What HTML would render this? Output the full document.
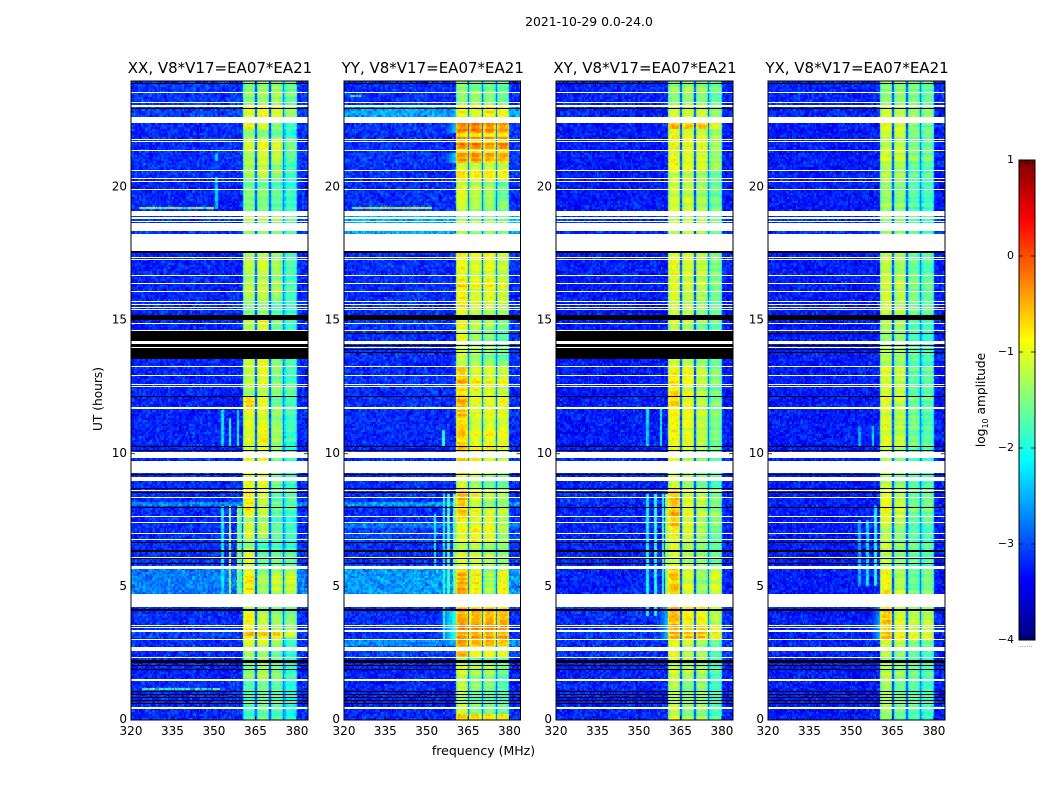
<!DOCTYPE html>
<html>
<head>
<meta charset="utf-8">
<title>2021-10-29 spectrogram</title>
<style>
html,body{margin:0;padding:0;background:#fff;}
#figure{position:relative;width:1050px;height:800px;overflow:hidden;background:#fff;}
canvas{position:absolute;display:block;}
svg{position:absolute;left:0;top:0;}
text{font-family:"DejaVu Sans","Liberation Sans",sans-serif;fill:#000;}
</style>
</head>
<body>
<div id="figure">
<svg id="overlay" width="1050" height="800" viewBox="0 0 1050 800">
<text x="589" y="26" font-size="12.4" text-anchor="middle">2021-10-29 0.0-24.0</text>
<text x="483.5" y="755" font-size="12.5" text-anchor="middle">frequency (MHz)</text>
<text transform="translate(102,399) rotate(-90)" font-size="12.2" text-anchor="middle">UT (hours)</text>
<text transform="translate(985,400) rotate(-90)" font-size="12.2" text-anchor="middle">log<tspan font-size="8" dy="3">10</tspan><tspan dy="-3"> amplitude</tspan></text>
</svg>
</div>
<script>
/* ---------- chart data ---------- */
var panelTitles = ["XX, V8*V17=EA07*EA21","YY, V8*V17=EA07*EA21","XY, V8*V17=EA07*EA21","YX, V8*V17=EA07*EA21"];
var freqTicks = [320,335,350,365,380];
var hourTicks = [0,5,10,15,20];
var colorTicks = [1,0,-1,-2,-3,-4];

/* time segments: [start hour, background, sub-band 1..4, optional roll-off level below the band] (log10 amplitude) */
var segmentsXX = [
[0,-3.1,-1.75,-1.55,-1.65,-1.95],[1.5,-3.15,-1.45,-1.25,-1.45,-1.85],[2.3,-3.1,-1.35,-1.45,-1.65,-1.95],
[2.75,-3.1,-0.95,-0.95,-1.25,-1.75],[3.05,-3,-0.65,-0.75,-0.75,-1.15],[3.4,-3.1,-0.85,-1.15,-1.35,-1.45],
[4.1,-3.1,-1.35,-1.45,-1.55,-1.65],[4.73,-2.7,-0.85,-1.35,-1.15,-1.15],[5.8,-3.1,-1.05,-1.65,-1.55,-1.65],
[6.4,-3.1,-1.35,-1.75,-1.75,-1.85],[6.8,-3.1,-1.15,-1.25,-1.65,-1.85],[7.7,-3.1,-0.85,-1.15,-1.65,-1.75],
[8,-2.65,-0.75,-1.15,-1.45,-1.65],[8.2,-3.1,-0.85,-1.05,-1.65,-1.65],[8.7,-3.1,-0.95,-0.95,-1.55,-1.85],
[10,-3.15,-1.05,-0.9,-1.35,-1.85],[11,-3.15,-1,-1,-1.4,-1.75],[11.7,-3.15,-0.65,-0.95,-1.55,-1.75],
[12.15,-3.15,-1.35,-1.25,-1.45,-1.65],[12.6,-3.15,-1.15,-0.95,-1.45,-1.75],[15.2,-3.1,-1.45,-1.35,-1.65,-1.85],
[15.8,-3.15,-1.25,-1.15,-1.35,-1.75],[18.25,-3.05,-1.35,-1.35,-1.45,-1.65],[19.1,-3.15,-1.5,-1.5,-1.65,-1.85],
[20.3,-3.1,-1.35,-1.2,-1.45,-1.85],[21,-3.1,-1.2,-1,-1.1,-1.55],[21.8,-3.1,-1.3,-1.35,-1.45,-1.85],
[22.2,-3.1,-0.85,-1.05,-1.45,-1.75],[22.65,-3,-1,-0.85,-1,-1.35],[23.1,-3.05,-1.45,-1.35,-1.35,-1.55]];

var segmentsYY = [
[0,-3.1,-0.5,-0.6,-0.6,-0.7],[0.25,-3.15,-1.2,-1.55,-1.6,-1.7],[1.2,-3.15,-1.1,-1.3,-1.3,-1.6],
[2,-3.1,-1.2,-1.4,-1.4,-1.5],[2.3,-3,-0.6,-1,-1,-1.1],[2.75,-2.6,-0.5,-0.6,-0.6,-0.7],
[3,-3.1,-0.35,-0.4,-0.4,-0.45,-1.9],[4.1,-3.1,-0.6,-0.7,-0.7,-0.8],[4.73,-2.55,-0.5,-0.9,-1.3,-0.95],
[5.8,-3.1,-1,-1,-1.2,-1.4],[6.2,-3.1,-1.2,-1.2,-1.3,-1.4],[6.7,-3,-1,-0.9,-1,-1.4],
[7.2,-2.75,-0.9,-0.95,-0.9,-1.2],[7.45,-3.1,-0.8,-1,-1,-1.3],[7.65,-3.1,-0.6,-1,-1.1,-1.2],
[8,-2.55,-0.5,-1,-1.3,-1.3],[8.2,-3.1,-0.5,-0.9,-1.1,-1.2],[8.7,-3.1,-1,-1.2,-1.4,-1.5],
[9.2,-3.1,-0.7,-0.9,-1.1,-1.3],[10.1,-3.15,-0.65,-0.95,-0.85,-0.95],[10.8,-3.1,-0.6,-1,-0.95,-1],
[11.75,-3.1,-0.45,-0.9,-1,-0.9],[12.1,-3.1,-0.75,-1,-1,-1.15],[12.6,-3.05,-0.45,-0.85,-0.95,-0.9],
[12.95,-3.1,-0.55,-0.95,-0.95,-1.05],[13.3,-3.15,-1.3,-1.3,-1.4,-1.5],[13.5,-3.1,-1.1,-1.3,-1.4,-1.6],
[14.25,-3.1,-1,-1.4,-1.5,-1.8],[14.6,-3.05,-0.95,-1.2,-1.3,-1.5],[15.2,-3.1,-0.8,-1,-1.1,-1.2],
[15.7,-3.1,-0.75,-0.95,-0.85,-1],[16.4,-3.1,-0.95,-1.05,-1,-1.2],[18.25,-2.45,-1.2,-1.3,-1.3,-1.4],
[19.1,-3.1,-1.2,-1.3,-1.4,-1.5],[19.5,-3.1,-1,-1.2,-1.3,-1.6],[20.28,-3.1,-0.7,-0.75,-0.75,-0.85],
[20.66,-3.1,-1.1,-1.15,-1.15,-1.2],[20.92,-3.05,-0.4,-0.4,-0.5,-0.55,-2.3],[21.33,-3.1,-0.85,-0.85,-0.95,-0.9],
[21.44,-3.1,-0.25,-0.2,-0.35,-0.3],[21.67,-3.1,-0.85,-0.85,-0.9,-0.95],[21.82,-3.1,-0.05,-0.05,-0.05,-0.15],
[21.93,-3.1,-0.7,-0.75,-0.75,-0.8],[22.08,-3.05,-0.35,-0.3,-0.4,-0.5,-2.4],[22.65,-2.5,-0.8,-0.9,-0.7,-0.8],
[23,-3.1,-1.3,-1.25,-1.3,-1.45],[23.6,-3.1,-1.5,-1.6,-1.6,-1.7]];

var segmentsXY = [
[0,-3.15,-1.15,-1.4,-1.35,-1.75],[1.5,-3.15,-1.1,-1.25,-1.3,-1.7],[2.3,-3.1,-1,-1.25,-1.35,-1.75],
[2.75,-3.1,-0.9,-1.05,-1.25,-1.55],[3,-3.05,-0.5,-0.65,-0.6,-0.9,-2.4],[3.55,-3.1,-0.55,-0.85,-0.9,-1.2,-2.4],
[4.73,-3.15,-0.65,-1.1,-1.4,-1.1],[5.8,-3.15,-1.05,-1.25,-1.4,-1.6],[6.7,-3.15,-0.95,-1.15,-1.35,-1.65],
[7.2,-3.15,-0.6,-1.05,-1.25,-1.45],[8,-3.1,-0.5,-0.95,-1.1,-1.45],[8.7,-3.15,-1.1,-1.35,-1.55,-1.75],
[10.1,-3.2,-0.9,-1,-1.2,-1.5],[11.7,-3.2,-0.75,-1.05,-1.25,-1.55],[12.6,-3.2,-0.85,-0.9,-1.2,-1.45],
[13.3,-3.2,-1.15,-1.25,-1.45,-1.65],[15.2,-3.2,-1.05,-1.15,-1.35,-1.55],[15.8,-3.2,-1,-1.1,-1.2,-1.5],
[18.25,-3.1,-1.25,-1.25,-1.35,-1.55],[19.1,-3.2,-1.15,-1.2,-1.35,-1.6],[20.6,-3.2,-0.95,-1,-1.05,-1.35],
[22.2,-3.2,-0.65,-0.75,-0.75,-1.15],[22.65,-3.15,-1,-1,-1.05,-1.35],[23,-3.15,-1.4,-1.35,-1.4,-1.6]];

var segmentsYX = [
[0,-3.2,-1.35,-1.6,-1.7,-1.85],[1.5,-3.2,-1.2,-1.4,-1.6,-1.75],[2.3,-3.15,-1.15,-1.35,-1.55,-1.65],
[2.75,-3.15,-1.05,-1.2,-1.45,-1.55],[3,-3.15,-0.6,-0.95,-1.05,-1.1,-2.5],[3.6,-3.2,-0.65,-1.05,-1.25,-1.2,-2.6],
[4.73,-3.2,-0.9,-1.25,-1.6,-1.5],[5.8,-3.2,-1.2,-1.45,-1.65,-1.75],[7.2,-3.2,-1,-1.2,-1.6,-1.6],
[8.7,-3.2,-1.2,-1.45,-1.7,-1.75],[10.1,-3.2,-1.05,-1.2,-1.55,-1.7],[12,-3.2,-1.05,-1.15,-1.65,-1.65],
[13.3,-3.2,-1.25,-1.35,-1.7,-1.8],[15.2,-3.2,-1.15,-1.25,-1.55,-1.65],[18.25,-3.1,-1.3,-1.35,-1.6,-1.7],
[19.1,-3.2,-1.35,-1.45,-1.7,-1.8],[20.3,-3.2,-1.25,-1.3,-1.65,-1.7],[21,-3.2,-1.1,-1.15,-1.45,-1.55],
[22.2,-3.2,-1,-1.15,-1.5,-1.6],[22.65,-3.15,-1.15,-1.2,-1.35,-1.45],[23,-3.15,-1.45,-1.45,-1.55,-1.65]];

var allSegments = [segmentsXX,segmentsYY,segmentsXY,segmentsYX];

/* narrow vertical interference: [MHz, first hour, last hour, value] */
var vLinesXX = [[351,19.2,20.4,-2.4],[351,21,21.3,-2.4],[353,4.7,8,-2.2],[355.7,4.7,8,-1.4],[358.6,4.7,8,-1.4],[359.5,4.7,8,-1.8],[353,10.3,11.6,-2.3],[355.7,10.3,11.3,-1.9],[358.7,10.3,11.6,-2.1]];
var vLinesYY = [[353,5.8,7.7,-2.1],[356.2,3,8.5,-2],[358,4.7,8.5,-1.8],[360,4.7,8.5,-1.6],[356,10.3,10.9,-1.9]];
var vLinesXY = [[353,3.9,8.5,-2.1],[356,3.9,8.5,-2],[358.6,4.7,8.5,-1.8],[360,4.7,8.5,-1.4],[353,10.3,11.7,-2.3],[358,10.3,11.7,-2.1]];
var vLinesYX = [[353,5,7.5,-2.5],[356,5,7.5,-2.3],[359,5,8,-2],[353,10.3,11,-2.6],[358,10.3,11,-2.3]];
var allVLines = [vLinesXX,vLinesYY,vLinesXY,vLinesYX];

/* narrow horizontal interference: [hour, first MHz, last MHz, value] */
var hLinesXX = [[19.2,323,350,-1.5],[1.16,324,352,-1.9]];
var hLinesYY = [[19.2,323,352,-1.3],[23.4,321,326,-2.1]];
var hLinesXY = [];
var hLinesYX = [];
var allHLines = [hLinesXX,hLinesYY,hLinesXY,hLinesYX];

/* hand-typed fine-grain texture, not measured cell by cell */
var speckle = [0.4,-0.7,0.1,0.9,-0.3,-0.9,0.6,0.2,-0.5,0.8,-0.1,-0.6,0.3,1,-0.8,0.5,-0.2,0.7,-1,0.2,
0.6,-0.4,0.9,-0.7,0,0.5,-0.9,0.3,0.8,-0.6,0.1,-0.2,0.7,-0.8,0.4,1,-0.5,-0.1,0.6,-0.3,
0.2,0.8,-1,0.5,-0.6,0.3,0.9,-0.4,-0.7,0.1,0.6,-0.2,0.4,-0.9,0.7,0,-0.5,0.9,-0.3,0.2,
-0.8,0.5,1,-0.6,0.1,-0.4,0.7,0.3,-1,0.8,-0.1,0.4,-0.7,0.6,-0.2,0.9,-0.5,0.2,0.7,-0.9,
0.3,-0.3,0.8,0.1,-0.6,0.5,-0.8,1,-0.1,0.4,-0.4,0.6,-0.9,0.2,0.7,-0.2,0.5];

/* flagged time ranges [from hour, to hour] */
var whiteFlags = [[0.43,0.47],[1.46,1.53],[2.34,2.37],[2.59,2.75],[3,3.04],[3.32,3.38],[3.46,3.49],[3.52,3.55],
[4.23,4.73],[5.66,5.8],[6.1,6.13],[6.75,6.78],[7,7.03],[7.41,7.44],[7.62,7.65],[8.34,8.37],[8.59,8.62],
[8.99,9.14],[9.27,9.71],[9.85,10.05],[11.68,11.75],[12.5,12.54],[12.58,12.62],[12.93,12.96],[13.27,13.3],
[13.99,14.02],[14.12,14.24],[14.63,14.66],[14.89,14.92],[15.39,15.42],[15.49,15.52],[15.59,15.62],[15.7,15.73],
[16.1,16.13],[16.39,16.42],[16.69,16.72],[17.27,17.31],[17.36,17.39],[17.62,18.25],[18.38,18.65],[18.69,18.75],
[18.81,18.88],[18.93,19.13],[19.92,19.96],[20.2,20.23],[20.31,20.35],[20.63,20.66],[21.36,21.39],[21.72,21.75],
[21.78,21.81],[22.43,22.63],[23.01,23.1],[23.17,23.2],[23.55,23.58]];
var blackFlags = [[0.59,0.62],[0.71,0.74],[0.84,0.87],[0.95,0.98],[1.04,1.08],[1.86,1.9],[2.02,2.06],[2.13,2.25],
[4.09,4.16],[5.87,5.9],[6.06,6.09],[6.31,6.38],[6.65,6.69],[7.97,8],[8.51,8.55],[8.66,8.7],[9.2,9.24],[10.09,10.13],
[10.25,10.29],[12.13,12.17],[13.79,13.83],[13.88,13.92],[14.06,14.1],[14.48,14.52],[15.02,15.21],[17.53,17.6],[22.96,23],[23.87,23.91]];
/* extra outage only in the XX and XY panels */
var crossBlackFlags = [[13.55,13.97],[14.02,14.12],[14.25,14.61]];
var panelsWithOutage = [true,false,true,false];

/* sub-band limits in MHz: [low, high] */
var subBands = [[360.5,364.8],[365.6,369.9],[370.7,374.9],[375.7,380]];

/* ---------- layout and scales ---------- */
var panelLeft = [131,344,556,768];
var panelWidth = [177,176.5,177,177];
var plotTop = 81, plotBottom = 720;
var FREQ_MIN = 320, FREQ_MAX = 384, HOUR_MAX = 24;
var NCHAN = 128, NROW = 320;
var SVGNS = "http://www.w3.org/2000/svg";
var overlay = document.getElementById("overlay");
var figure = document.getElementById("figure");

function xScale(p, f){ return panelLeft[p] + (f - FREQ_MIN) * panelWidth[p] / (FREQ_MAX - FREQ_MIN); }
function yScale(h){ return plotBottom - h * (plotBottom - plotTop) / HOUR_MAX; }
function clamp(v){ return Math.max(0, Math.min(1, v)); }
function jet(v){
  var t = (v + 4) / 5;
  return "rgb(" + Math.round(255*clamp(Math.min(4*t-1.5,-4*t+4.5))) + "," +
    Math.round(255*clamp(Math.min(4*t-0.5,-4*t+3.5))) + "," +
    Math.round(255*clamp(Math.min(4*t+0.5,-4*t+2.5))) + ")";
}
function svgEl(tag, attrs){
  var e = document.createElementNS(SVGNS, tag);
  for (var k in attrs) e.setAttribute(k, attrs[k]);
  return e;
}
function segmentAt(p, hour){
  var list = allSegments[p], s = list[0];
  for (var i = 0; i < list.length; i++) if (list[i][0] <= hour) s = list[i];
  return s;
}
function cellValue(p, c, r){
  var dh = HOUR_MAX / NROW, df = (FREQ_MAX - FREQ_MIN) / NCHAN;
  var hour = (r + 0.5) * dh;
  var freq = FREQ_MIN + (c + 0.5) * df;
  var s = segmentAt(p, hour);
  var n = speckle.length;
  var noise = speckle[(c*c*3 + r*r*5 + c*r*11 + c*37 + r*13 + p*7) % n];
  var noise2 = speckle[(c*c*13 + r*r*2 + c*r*5 + c*3 + r*41 + p*19) % n];
  var stripe = speckle[(r*r*3 + r*7 + p*11) % n];
  var v = null;
  var inBand = freq >= subBands[0][0] && freq <= subBands[3][1];
  if (inBand) {
    v = -3 + 0.2*noise;
    for (var b = 0; b < subBands.length; b++) {
      var lo = subBands[b][0], hi = subBands[b][1];
      if (freq >= lo && freq <= hi) {
        var pos = Math.min(freq - lo, hi - freq);
        var rolloff = pos < 0.5 ? 0.4 : (pos < 1 ? 0.12 : 0);
        v = s[2 + b] - rolloff + 0.14*noise + 0.07*noise2 + 0.2*stripe;
      }
    }
  } else {
    v = s[1] - 0.1 + 0.3*noise + 0.18*noise2;
    if (freq < 360.5 && freq >= 352 && s[6] !== undefined) {
      v = Math.max(v, s[6] - (360.5 - freq)*0.22 + 0.12*noise);
    }
  }
  var lines = allVLines[p];
  for (var i = 0; i < lines.length; i++) {
    var l = lines[i];
    if (Math.abs(l[0] - freq) <= df/2 && hour >= l[1] && hour <= l[2]) v = l[3] + 0.25*noise;
  }
  var hl = allHLines[p];
  for (var j = 0; j < hl.length; j++) {
    var h = hl[j];
    if (Math.floor(h[0] / dh) === r && freq >= h[1] && freq <= h[2]) v = h[3] + 0.9*noise;
  }
  return v;
}

/* ---------- panels ---------- */
panelTitles.forEach(function(title, p){
  var left = panelLeft[p], width = panelWidth[p], right = left + width;
  var canvas = document.createElement("canvas");
  
  
  canvas.width = Math.ceil(width);
  canvas.height = plotBottom - plotTop;
  canvas.style.left = left + "px";
  canvas.style.top = plotTop + "px";
  figure.insertBefore(canvas, overlay);
  var ctx = canvas.getContext("2d");
  var df = (FREQ_MAX - FREQ_MIN) / NCHAN, dh = HOUR_MAX / NROW;
  for (var r = 0; r < NROW; r++) {
    var y0 = Math.round(yScale((r + 1) * dh)) - plotTop;
    var y1 = Math.round(yScale(r * dh)) - plotTop;
    for (var c = 0; c < NCHAN; c++) {
      var x0 = Math.round(xScale(p, FREQ_MIN + c * df) - left);
      var x1 = Math.round(xScale(p, FREQ_MIN + (c + 1) * df) - left);
      if (x1 <= x0) continue;
      ctx.fillStyle = jet(cellValue(p, c, r));
      ctx.fillRect(x0, y0, x1 - x0, y1 - y0);
    }
  }
  var g = svgEl("g", {});
  
  
  overlay.appendChild(g);

  function addFlags(list, color, name){
    list.forEach(function(f){
      var yA = Math.round(yScale(f[1]));
      var yB = Math.round(yScale(f[0]));
      var rect = svgEl("rect", {x:left, width:width, y:yA, height:Math.max(1, yB - yA), fill:color, "shape-rendering":"crispEdges"});
      
      
      g.appendChild(rect);
    });
  }
  addFlags(whiteFlags, "#fff", "flagged-row");
  addFlags(blackFlags, "#000", "no-data-row");
  if (panelsWithOutage[p]) addFlags(crossBlackFlags, "#000", "outage-row");

  var frame = svgEl("rect", {x:left, y:plotTop, width:width, height:plotBottom - plotTop, fill:"none", stroke:"#000", "stroke-width":1});
  
  
  g.appendChild(frame);

  freqTicks.forEach(function(f){
    var x = xScale(p, f);
    var tb = svgEl("path", {d:"M"+x+" "+plotBottom+"v-4M"+x+" "+plotTop+"v4", stroke:"#000", "stroke-width":0.8, fill:"none"});
    
    
    g.appendChild(tb);
    var lbl = svgEl("text", {x:x, y:plotBottom + 15, "font-size":12, "text-anchor":"middle"});
    
    
    lbl.textContent = f;
    g.appendChild(lbl);
  });
  hourTicks.forEach(function(h){
    var y = yScale(h);
    var tl = svgEl("path", {d:"M"+left+" "+y+"h4M"+right+" "+y+"h-4", stroke:"#000", "stroke-width":0.8, fill:"none"});
    
    
    g.appendChild(tl);
    var lbl = svgEl("text", {x:left - 4, y:y + 3, "font-size":12, "text-anchor":"end"});
    
    
    lbl.textContent = h;
    g.appendChild(lbl);
  });
  var t = svgEl("text", {x:left + width/2 + 0.5, y:plotTop - 8, "font-size":15, "text-anchor":"middle"});
  
  
  t.textContent = title;
  g.appendChild(t);
});

/* ---------- colour bar ---------- */
var barLeft = 1019, barWidth = 16, barTop = 160, barBottom = 640, COLOR_MIN = -4, COLOR_MAX = 1;
function colorY(v){ return barBottom - (v - COLOR_MIN) * (barBottom - barTop) / (COLOR_MAX - COLOR_MIN); }
var cb = svgEl("g", {"shape-rendering":"crispEdges"});


overlay.appendChild(cb);
for (var i = 0; i < 240; i++) {
  var vLow = COLOR_MIN + i * (COLOR_MAX - COLOR_MIN) / 240;
  var vHigh = COLOR_MIN + (i + 1) * (COLOR_MAX - COLOR_MIN) / 240;
  var step = svgEl("rect", {x:barLeft, width:barWidth, y:colorY(vHigh), height:colorY(vLow) - colorY(vHigh), fill:jet((vLow + vHigh) / 2)});
  
  
  cb.appendChild(step);
}
var cbFrame = svgEl("rect", {x:barLeft, y:barTop, width:barWidth, height:barBottom - barTop, fill:"none", stroke:"#000", "stroke-width":1});


overlay.appendChild(cbFrame);
colorTicks.forEach(function(v){
  var y = colorY(v);
  var tick = svgEl("path", {d:"M"+barLeft+" "+y+"h4M"+(barLeft+barWidth)+" "+y+"h-4", stroke:"#000", "stroke-width":0.8, fill:"none"});
  
  
  overlay.appendChild(tick);
  var lbl = svgEl("text", {x:barLeft - 5, y:y + 3, "font-size":11, "text-anchor":"end"});
  
  
  lbl.textContent = v < 0 ? "\u2212" + Math.abs(v) : v;
  overlay.appendChild(lbl);
});
for (var m = 1; m < 6; m++) {
  var mx = barLeft + m * barWidth / 6;
  var mt = svgEl("path", {d:"M"+mx+" "+barTop+"v4M"+mx+" "+barBottom+"v-4", stroke:"#000", "stroke-width":0.6, fill:"none"});
  
  
  overlay.appendChild(mt);
}
var dots = svgEl("text", {x:barLeft + barWidth/2 - 1, y:647, "font-size":7, "text-anchor":"middle", style:"fill:#777"});


dots.textContent = "......";
overlay.appendChild(dots);
</script>
</body>
</html>
